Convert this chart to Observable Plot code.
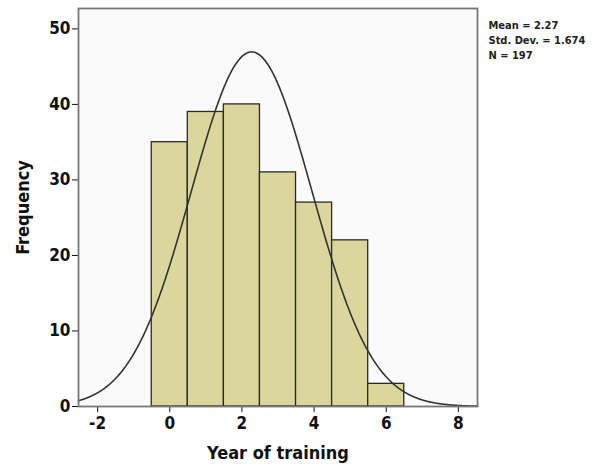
<!DOCTYPE html>
<html><head><meta charset="utf-8">
<script src="https://cdn.jsdelivr.net/npm/d3@7"></script>
<script src="https://cdn.jsdelivr.net/npm/@observablehq/plot@0.6"></script>
<style>
body{margin:0;background:#fff;}
g[aria-label="x-axis label"] text, g[aria-label="y-axis label"] text {font-size:18px;}
</style>
</head><body>
<div id="chart"></div>
<script>
// Data
const years = [0, 1, 2, 3, 4, 5, 6];
const frequency = [35, 39, 40, 31, 27, 22, 3];
const xTicks = [-2, 0, 2, 4, 6, 8];
const yTicks = [0, 10, 20, 30, 40, 50];
const statsLines = ["Mean = 2.27", "Std. Dev. = 1.674", "N = 197"];
const mean = 2.27, sd = 1.674, n = 197, binWidth = 1;

const bars = years.map((y, i) => ({x1: y - binWidth / 2, x2: y + binWidth / 2, f: frequency[i]}));
// fitted normal curve (from stated Mean, Std. Dev., N)
const xDomain = [-2.53, 8.53];
const curve = d3.range(xDomain[0], xDomain[1] + 0.001, 0.02).map(x => ({
  x, y: n * binWidth * Math.exp(-0.5 * ((x - mean) / sd) ** 2) / (sd * Math.sqrt(2 * Math.PI))
}));

const font = "'DejaVu Sans Condensed','Liberation Sans Narrow','Arial Narrow',sans-serif";
const chart = Plot.plot({
  width: 592, height: 466,
  marginLeft: 78, marginTop: 8, marginRight: 115, marginBottom: 60,
  style: {fontFamily: font, fontWeight: "bold", fontSize: "17px", color: "#111", background: "#fff", fontStretch: "condensed"},
  x: {domain: xDomain, ticks: xTicks, tickFormat: d => String(d), tickSize: 6, tickPadding: 4, label: "Year of training", labelAnchor: "center", labelArrow: "none", labelOffset: 52},
  y: {domain: [0, 52.7], ticks: yTicks, tickFormat: d => String(d), tickSize: 6, tickPadding: 2, label: "Frequency", labelAnchor: "center", labelArrow: "none", labelOffset: 62},
  marks: [
    Plot.frame({fill: "#fafafa", stroke: null}),
    Plot.rectY(bars, {x1: "x1", x2: "x2", y: "f", fill: "#dbd79c", stroke: "#2b2b22", strokeWidth: 1.3}),
    Plot.line(curve, {x: "x", y: "y", stroke: "#333", strokeWidth: 1.6, curve: "basis"}),
    Plot.frame({stroke: "#777", strokeWidth: 1.8}),
    Plot.text([statsLines.join("\n")], {text: d => d, frameAnchor: "top-right", dx: 11, dy: 10, lineAnchor: "top", lineHeight: 1.35, textAnchor: "start", fontSize: 11, fill: "#222"})
  ]
});
document.getElementById("chart").appendChild(chart);
</script>
</body></html>
